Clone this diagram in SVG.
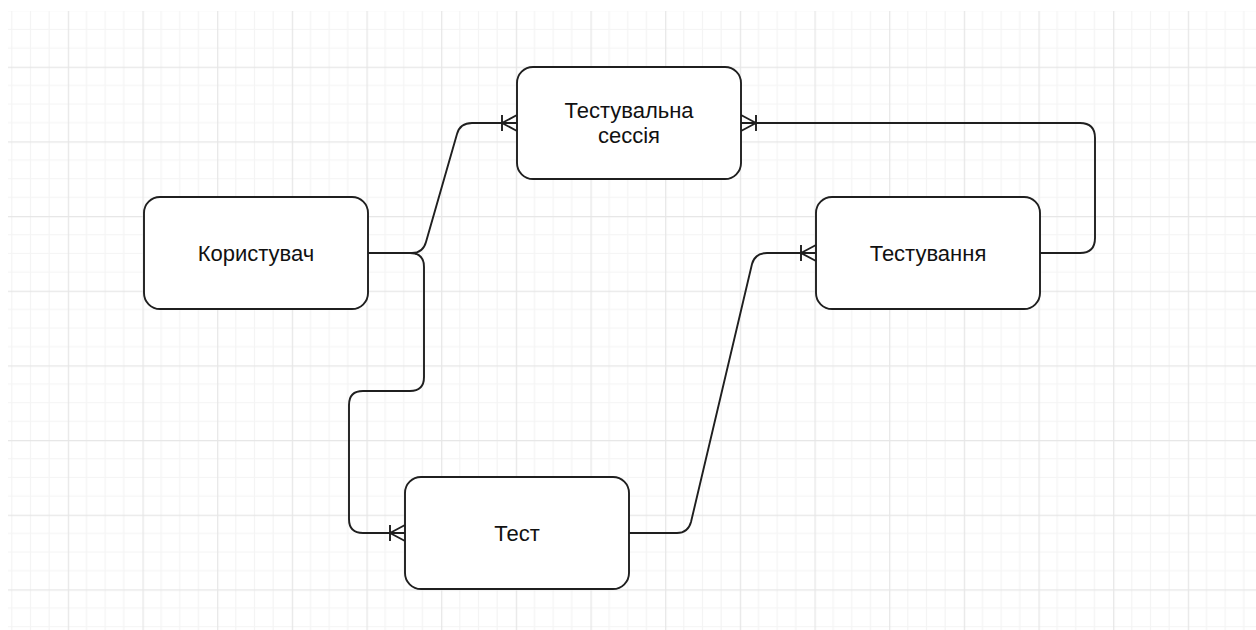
<svg xmlns="http://www.w3.org/2000/svg" width="1256" height="630" viewBox="0 0 1256 630">
  <style>
    .node rect { fill: #ffffff; stroke: #1f1f1f; stroke-width: 1.9; }
    .node text { font-family: "Liberation Sans", Arial, sans-serif; font-size: 22px; fill: #111111; text-anchor: middle; }
    .conn path { fill: none; stroke: #1f1f1f; stroke-width: 1.9; }
  </style>
  <defs>
    <pattern id="grid" patternUnits="userSpaceOnUse" x="67.8" y="66.7" width="74.667" height="74.667">
      <path d="M18.667 0V74.667M37.333 0V74.667M56 0V74.667M0 18.667H74.667M0 37.333H74.667M0 56H74.667" stroke="#f4f4f4" stroke-width="1.2" fill="none"/>
      <path d="M0.6 0V74.667M0 0.6H74.667" stroke="#e6e6e6" stroke-width="1.3" fill="none"/>
    </pattern>
    <marker id="many" markerUnits="userSpaceOnUse" viewBox="-18 -10 20 20" markerWidth="20" markerHeight="20" refX="0" refY="0" orient="auto" overflow="visible">
      <path d="M-15 -8V8M-15 0L0 -8M-15 0L0 8" fill="none" stroke="#1f1f1f" stroke-width="1.9"/>
    </marker>
  </defs>
  <rect x="0" y="0" width="1256" height="630" fill="#ffffff"/>
  <rect x="8" y="11" width="1248" height="619" fill="url(#grid)"/>

  <g id="connectors" class="conn">
    <path d="M368 253 L412 253 Q423 253 426 242 L457 134 Q460 123 472 123 L517 123" marker-end="url(#many)"/>
    <path d="M368 253 L410 253 Q424 253 424 267 L424 377 Q424 391 410 391 L363 391 Q349 391 349 405 L349 519 Q349 533 363 533 L405 533" marker-end="url(#many)"/>
    <path d="M629 533 L677 533 Q688 533 691 522 L752 264 Q755 253 767 253 L816 253" marker-end="url(#many)"/>
    <path d="M1040 253 L1080 253 Q1095 253 1095 238 L1095 138 Q1095 123 1080 123 L741 123" marker-end="url(#many)"/>
  </g>

  <g id="node-session" class="node">
    <rect x="517" y="67" width="224" height="112" rx="16" ry="16"/>
    <text x="629" y="118">Тестувальна</text>
    <text x="629" y="143">сессія</text>
  </g>
  <g id="node-user" class="node">
    <rect x="144" y="197" width="224" height="112" rx="16" ry="16"/>
    <text x="256" y="261">Користувач</text>
  </g>
  <g id="node-testing" class="node">
    <rect x="816" y="197" width="224" height="112" rx="16" ry="16"/>
    <text x="928" y="261">Тестування</text>
  </g>
  <g id="node-test" class="node">
    <rect x="405" y="477" width="224" height="112" rx="16" ry="16"/>
    <text x="517" y="541">Тест</text>
  </g>
</svg>
